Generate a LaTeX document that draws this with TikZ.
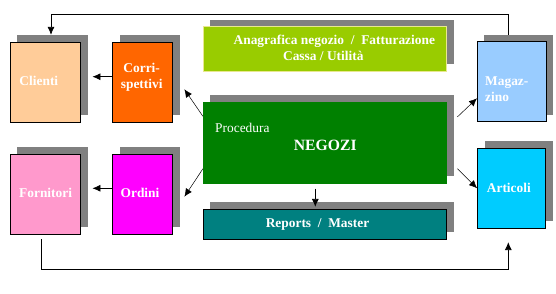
\documentclass[tikz,border=0pt]{standalone}
\usepackage{fontspec}
\setmainfont{Liberation Serif}
\usetikzlibrary{arrows.meta,shadows,backgrounds}
\definecolor{shadowgray}{HTML}{808080}
\definecolor{clientc}{HTML}{FFCC99}
\definecolor{corrc}{HTML}{FF6600}
\definecolor{fornc}{HTML}{FF99CC}
\definecolor{ordc}{HTML}{FF00FF}
\definecolor{anagc}{HTML}{99CC00}
\definecolor{anagborder}{HTML}{E8E890}
\definecolor{procc}{HTML}{008000}
\definecolor{repc}{HTML}{008080}
\definecolor{magc}{HTML}{99CCFF}
\definecolor{artc}{HTML}{00CCFF}
\begin{document}
\begin{tikzpicture}[x=1pt,y=-1pt,
  box/.style={draw=black,line width=0.8pt,inner sep=0pt,
    drop shadow={shadow xshift=7pt,shadow yshift=7pt,fill=shadowgray,opacity=1}},
  lbl/.style={text=white,font=\fontsize{13.4}{15}\selectfont\bfseries,inner sep=0pt},
  conn/.style={line width=0.8pt,-{Latex[length=8pt,width=7pt]}},
  thinconn/.style={line width=0.5pt,-{Latex[length=8pt,width=7pt]}}]
\useasboundingbox (0,0) rectangle (556,294);

% boxes
\node[box,fill=clientc,minimum width=70.4pt,minimum height=80pt] (clienti) at (45.5,82.3) {};
\node[box,fill=corrc,minimum width=60pt,minimum height=80pt] (corr) at (142.7,82.3) {};
\node[box,fill=fornc,minimum width=70.4pt,minimum height=80pt] (forn) at (45.5,194.3) {};
\node[box,fill=ordc,minimum width=60pt,minimum height=80pt] (ordini) at (142.7,194.3) {};
\node[box,draw=anagborder,fill=anagc,minimum width=243.4pt,minimum height=44.3pt] (anag) at (325,48.85) {};
\node[box,draw=procc,fill=procc,minimum width=243.4pt,minimum height=81pt] (proc) at (325,142.8) {};
\node[box,fill=repc,minimum width=243.4pt,minimum height=30pt] (rep) at (325,224) {};
\node[box,fill=magc,minimum width=68.7pt,minimum height=80pt] (mag) at (511.7,81.7) {};
\node[box,fill=artc,minimum width=68pt,minimum height=80pt] (art) at (511.5,188.3) {};

% texts
\node[lbl,anchor=base west] (tcli) at (19.3,86) {Clienti};
\node[lbl,anchor=base west] (tforn) at (19,197.6) {Fornitori};
\node[lbl,anchor=base] (tcorr1) at (141.7,72.6) {Corri-};
\node[lbl,anchor=base] (tcorr2) at (141.7,88.3) {spettivi};
\node[lbl,anchor=base] (tord) at (140,197.6) {Ordini};
\node[lbl,anchor=base west] (tmag1) at (485,85.3) {Magaz-};
\node[lbl,anchor=base west] (tmag2) at (485,101.8) {zino};
\node[lbl,anchor=base west] (tart) at (486.7,192.6) {Articoli};
\node[lbl,anchor=base] (tana1) at (334.3,44.3) {Anagrafica negozio~~/~~Fatturazione};
\node[lbl,anchor=base] (tana2) at (323.3,61) {Cassa / Utilità};
\node[lbl,anchor=base] (trep) at (317.5,227.6) {Reports~~/~~Master};
\node[text=white,font=\fontsize{13.4}{15}\selectfont,inner sep=0pt,anchor=base west] (tproc) at (215,132.3) {Procedura};
\node[text=white,font=\fontsize{15.7}{18}\selectfont\bfseries,inner sep=0pt,anchor=base] (tneg) at (325.3,150.9) {NEGOZI};

% connectors
\begin{scope}[on background layer]
\fill[white] (0,0) rectangle (556,294);
\draw[conn] ([xshift=-3.4pt]mag.north) -- ++(0,-26.4) -| ([xshift=5.5pt,yshift=7pt]clienti.north);
\end{scope}
\draw[conn] ([xshift=-4.2pt,yshift=-4.7pt]forn.south) -- ++(0,30) -| ([xshift=-3.2pt,yshift=-13.4pt]art.south);
\draw[conn] ([yshift=5.6pt]corr.west) -- ([xshift=11.3pt,yshift=5.6pt]clienti.east);
\draw[conn] ([yshift=6pt]ordini.west) -- ([xshift=11.3pt,yshift=6pt]forn.east);
\draw[thinconn] ([yshift=-14.4pt]proc.north west) -- ([xshift=11.3pt,yshift=-7pt]corr.east);
\draw[thinconn] ([yshift=14.9pt]proc.south west) -- ([xshift=11.3pt,yshift=-2.4pt]ordini.east);
\draw[thinconn] ([xshift=10.3pt,yshift=-15pt]proc.north east) -- ([yshift=-16.6pt]mag.west);
\draw[thinconn] ([xshift=10.3pt,yshift=15pt]proc.south east) -- (art.west);
\draw[conn] ([xshift=-9.7pt,yshift=-5pt]proc.south) -- ([xshift=-9.7pt,yshift=1.7pt]rep.north);
\end{tikzpicture}
\end{document}
